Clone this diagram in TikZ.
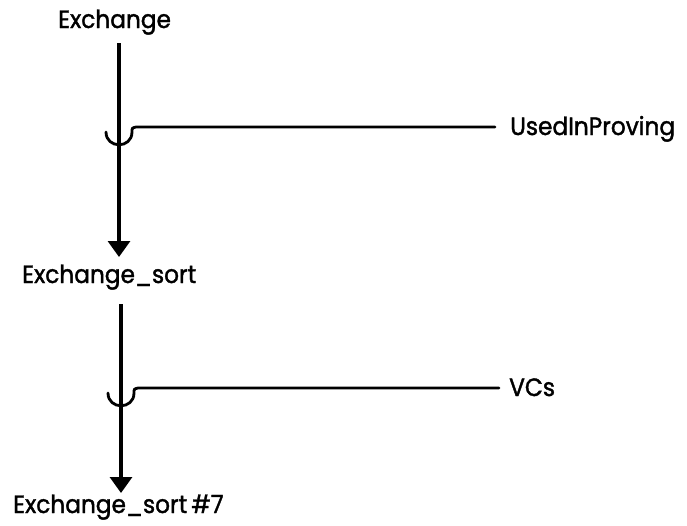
\documentclass[tikz,border=0pt]{standalone}
\usepackage{fontspec}
\setmainfont{Poppins}[FakeStretch=0.93,FakeBold=1.5]
\usetikzlibrary{arrows.meta}
\begin{document}
\begin{tikzpicture}[x=1pt,y=-1pt,
  lbl/.style={font=\fontsize{25}{30}\selectfont, inner sep=0pt, anchor=base west},
  arr/.style={line width=3.2pt,-{Triangle[length=16pt,width=22pt]}},
  hook/.style={line width=2.8pt, line cap=round}]
\useasboundingbox (0,0) rectangle (687,525);
\node[lbl] (ex) at (58,28) {Exchange};
\node[lbl] (es) at (22,283) {Exchange\_sort};
\node[lbl] (es7) at (13,513) {Exchange\_sort\,\#7};
\node[lbl] (uip) at (510,135) {UsedInProving};
\node[lbl] (vc) at (509,396) {VCs};
\coordinate (a1s) at (119,43);
\coordinate (a1e) at (119,257);
\coordinate (a2s) at (121,304);
\coordinate (a2e) at (121,493);
\coordinate (h1) at (495,127);
\coordinate (h2) at (499,388);
\draw[arr] (a1s) -- (a1e);
\draw[arr] (a2s) -- (a2e);
\draw[hook] (106,132) .. controls (106,149) and (132,149) .. (132,132)
  .. controls (132,128) .. (136,127) -- (h1);
\draw[hook] (108,393) .. controls (108,410) and (134,410) .. (134,393)
  .. controls (134,389) .. (138,388) -- (h2);
\end{tikzpicture}
\end{document}
